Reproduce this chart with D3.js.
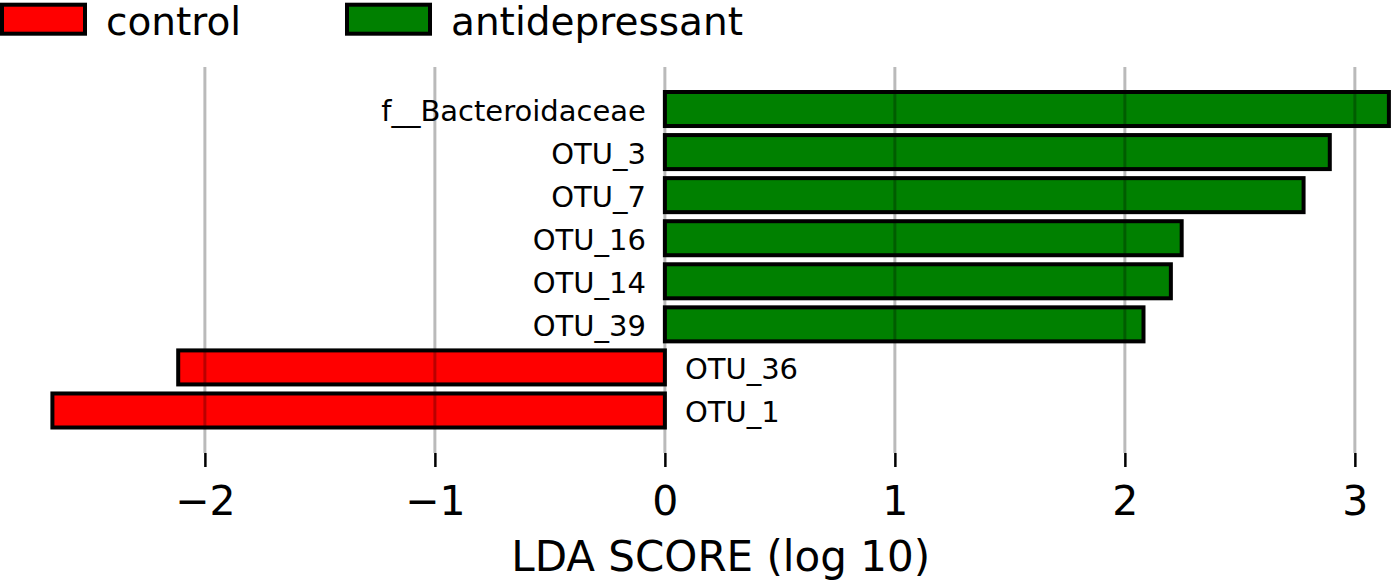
<!DOCTYPE html>
<html>
<head>
<meta charset="utf-8">
<script src="https://cdn.jsdelivr.net/npm/d3@7"></script>
<style>
  html, body { margin: 0; padding: 0; background: #fff; }
  svg { display: block; font-family: "DejaVu Sans", Verdana, sans-serif; }
</style>
</head>
<body>
<svg id="chart" width="1391" height="580"></svg>
<script>
// ---- data ----
const features = ["f__Bacteroidaceae", "OTU_3", "OTU_7", "OTU_16", "OTU_14", "OTU_39", "OTU_36", "OTU_1"];
const ldaScores = [3.148, 2.891, 2.777, 2.247, 2.200, 2.081, -2.116, -2.663];
const groups = ["antidepressant", "antidepressant", "antidepressant", "antidepressant", "antidepressant", "antidepressant", "control", "control"];
const legendGroups = ["control", "antidepressant"];
const groupColors = ["#ff0000", "#008000"];
const xTicks = [-2, -1, 0, 1, 2, 3];
const xTickLabels = ["\u22122", "\u22121", "0", "1", "2", "3"];
const xAxisTitle = "LDA SCORE (log 10)";

// ---- layout ----
const svg = d3.select("#chart");
const color = d3.scaleOrdinal().domain(legendGroups).range(groupColors);

const x = d3.scaleLinear()
  .domain([d3.min(ldaScores), d3.max(ldaScores)])
  .range([52.4, 1388.9]);

const y = d3.scaleBand()
  .domain(features)
  .range([92, 427.5])
  .paddingInner(0.21)
  .paddingOuter(0);

const gridTop = 67, gridBottom = 453;

// bars
svg.append("g").selectAll("rect")
  .data(features)
  .join("rect")
  .attr("x", (d, i) => Math.min(x(0), x(ldaScores[i])))
  .attr("width", (d, i) => Math.abs(x(ldaScores[i]) - x(0)))
  .attr("y", d => y(d))
  .attr("height", y.bandwidth())
  .attr("fill", (d, i) => color(groups[i]))
  .attr("stroke", "#000")
  .attr("stroke-width", 4);

// grid lines (drawn over bars, semi-transparent)
svg.append("g").selectAll("line")
  .data(xTicks)
  .join("line")
  .attr("x1", d => x(d)).attr("x2", d => x(d))
  .attr("y1", gridTop).attr("y2", gridBottom)
  .attr("stroke", "#000")
  .attr("stroke-opacity", 0.27)
  .attr("stroke-width", 3);

// bar labels
svg.append("g").selectAll("text")
  .data(features)
  .join("text")
  .attr("x", (d, i) => ldaScores[i] >= 0 ? x(0) - 19 : x(0) + 20)
  .attr("y", d => y(d) + y.bandwidth() / 2 + 12)
  .attr("text-anchor", (d, i) => ldaScores[i] >= 0 ? "end" : "start")
  .attr("font-size", 29)
  .attr("fill", "#000")
  .text(d => d);

// x axis
const xAxis = d3.axisBottom(x)
  .tickValues(xTicks)
  .tickFormat((d, i) => xTickLabels[i])
  .tickSize(14);
const gx = svg.append("g")
  .attr("transform", `translate(0,${gridBottom})`)
  .call(xAxis);
gx.select(".domain").remove();
gx.selectAll(".tick line").attr("stroke", "#000").attr("stroke-width", 2.5);
gx.selectAll(".tick text")
  .attr("y", 62)
  .attr("dy", 0)
  .attr("font-size", 41)
  .attr("font-family", "DejaVu Sans, Verdana, sans-serif")
  .attr("fill", "#000");

// x axis title
svg.append("text")
  .attr("x", (x.range()[0] + x.range()[1]) / 2)
  .attr("y", 571)
  .attr("text-anchor", "middle")
  .attr("font-size", 42)
  .attr("fill", "#000")
  .text(xAxisTitle);

// legend
const legendX = [2, 347];
const lg = svg.append("g").selectAll("g")
  .data(legendGroups)
  .join("g")
  .attr("transform", (d, i) => `translate(${legendX[i]},0)`);
lg.append("rect")
  .attr("x", 0).attr("y", 4.7)
  .attr("width", 83).attr("height", 29)
  .attr("fill", d => color(d))
  .attr("stroke", "#000")
  .attr("stroke-width", 4);
lg.append("text")
  .attr("x", 104)
  .attr("y", 35)
  .attr("font-size", 39)
  .attr("fill", "#000")
  .text(d => d);
</script>
</body>
</html>
